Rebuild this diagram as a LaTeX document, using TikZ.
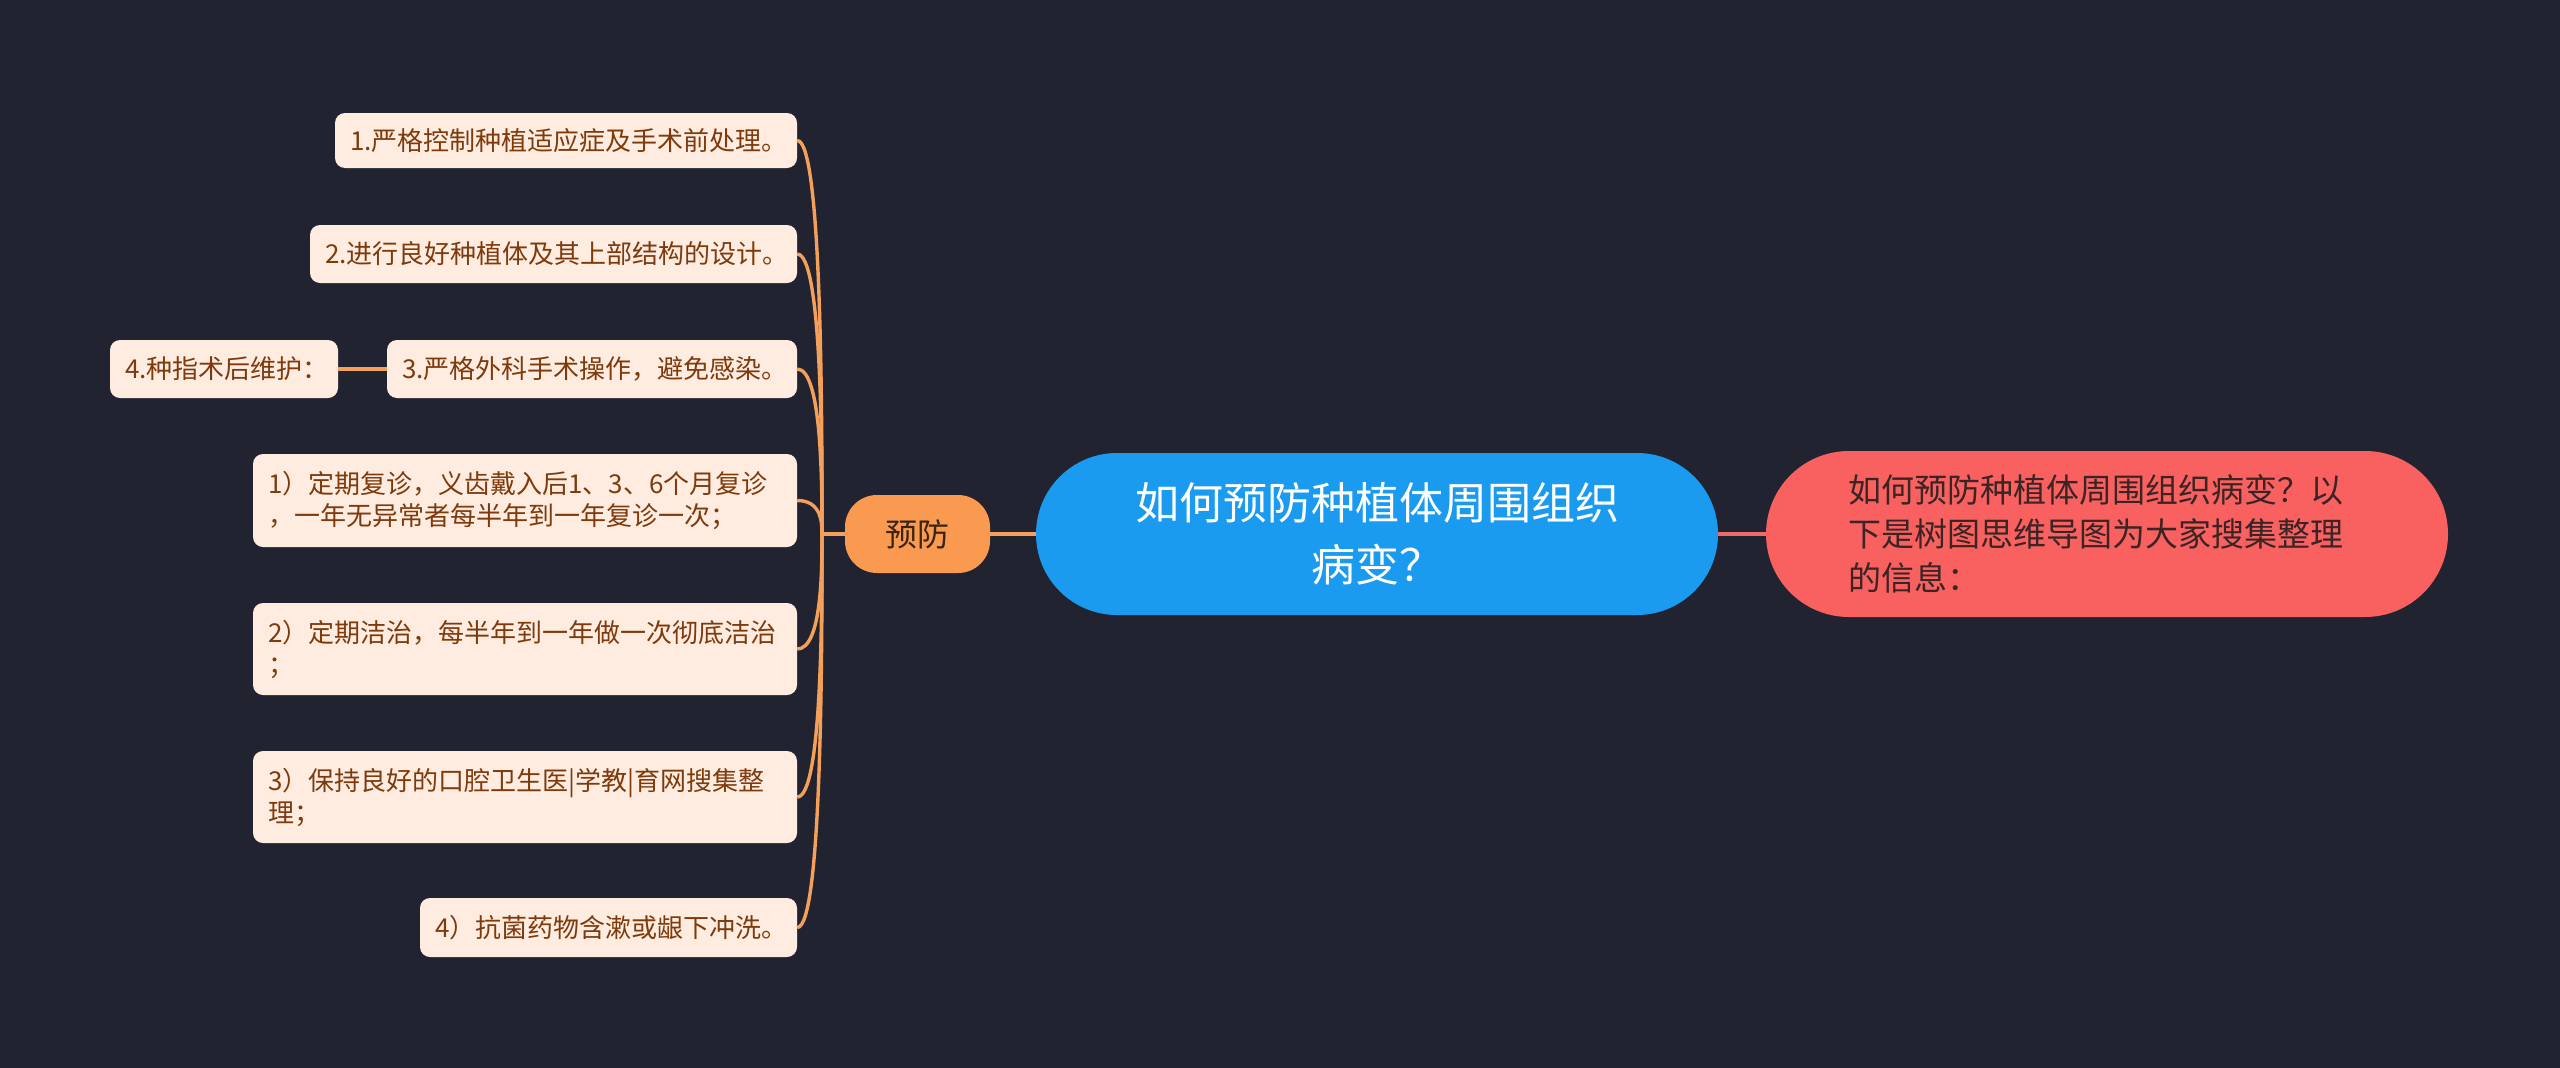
\documentclass[tikz,border=0pt]{standalone}
\usepackage{fontspec}
\setmainfont{Noto Sans CJK SC}
\usetikzlibrary{calc}
\definecolor{bgc}{HTML}{212430}
\definecolor{leaffill}{HTML}{FEECE0}
\definecolor{leaftext}{HTML}{7F3A0C}
\definecolor{orangeline}{HTML}{F4A05B}
\definecolor{yffill}{HTML}{F99A50}
\definecolor{yftext}{HTML}{3A2412}
\definecolor{centerfill}{HTML}{1A9BF0}
\definecolor{rightfill}{HTML}{F86160}
\definecolor{righttext}{HTML}{3B2424}
\definecolor{redline}{HTML}{F06A6A}
\tikzset{
  leaf/.style={fill=leaffill, text=leaftext, rounded corners=10pt, inner xsep=15pt, inner ysep=0pt,
    align=left, font=\fontsize{26}{32}\selectfont, anchor=center},
  yfbox/.style={fill=yffill, text=yftext, rounded corners=32pt, minimum width=145pt, minimum height=78pt,
    inner sep=0pt, font=\fontsize{32}{40}\selectfont},
  centerbox/.style={fill=centerfill, text=white, rounded corners=81pt, minimum height=162pt,
    inner xsep=80pt, inner ysep=0pt, text width=522pt, align=center, font=\fontsize{44}{62}\selectfont},
  rightbox/.style={fill=rightfill, text=righttext, rounded corners=83pt, minimum height=166pt,
    inner xsep=82pt, inner ysep=0pt, text width=518pt, align=left, font=\fontsize{33}{44}\selectfont},
  oline/.style={draw=orangeline, line width=3.4pt},
  rline/.style={draw=redline, line width=3.4pt}
}
\begin{document}
\begin{tikzpicture}[x=1pt,y=-1pt]
\fill[bgc] (0,0) rectangle (2560,1068);
\useasboundingbox (0,0) rectangle (2560,1068);

\node[centerbox] (c) at (1377,534) {如何预防种植体周围组织\\病变？};
\node[rightbox] (r) at (2107,534) {如何预防种植体周围组织病变？以\\下是树图思维导图为大家搜集整理\\的信息：};
\node[yfbox] (yf) at (917.5,534) {预防};

\node[leaf, text width=432pt, minimum height=55pt] (n1) at (566,140.5) {1.严格控制种植适应症及手术前处理。};
\node[leaf, text width=457pt, minimum height=58pt] (n2) at (553.5,254) {2.进行良好种植体及其上部结构的设计。};
\node[leaf, text width=380pt, minimum height=58pt] (n3) at (592,369) {3.严格外科手术操作，避免感染。};
\node[leaf, text width=198pt, minimum height=58pt] (n4) at (224,369) {4.种指术后维护：};
\node[leaf, text width=514pt, minimum height=93pt] (a1) at (525,500.5) {1）定期复诊，义齿戴入后1、3、6个月复诊\\，一年无异常者每半年到一年复诊一次；};
\node[leaf, text width=514pt, minimum height=92pt] (a2) at (525,649) {2）定期洁治，每半年到一年做一次彻底洁治\\；};
\node[leaf, text width=514pt, minimum height=92pt] (a3) at (525,797) {3）保持良好的口腔卫生医|学教|育网搜集整\\理；};
\node[leaf, text width=347pt, minimum height=59pt] (a4) at (608.5,927.5) {4）抗菌药物含漱或龈下冲洗。};

\coordinate (spine) at (822,534);

\draw[rline] (c.east) -- (r.west);
\draw[oline] (c.west) -- (yf.east);
\draw[oline] (yf.west) -- (spine);
\draw[oline] (n3.west) -- (n4.east);
\foreach \n in {n1,n2,n3,a1,a2,a3,a4}{
  \draw[oline] (\n.east) .. controls (spine |- \n.east) and ($(spine)!0.3!(spine |- \n.east)$) .. (spine);
}
\end{tikzpicture}
\end{document}
